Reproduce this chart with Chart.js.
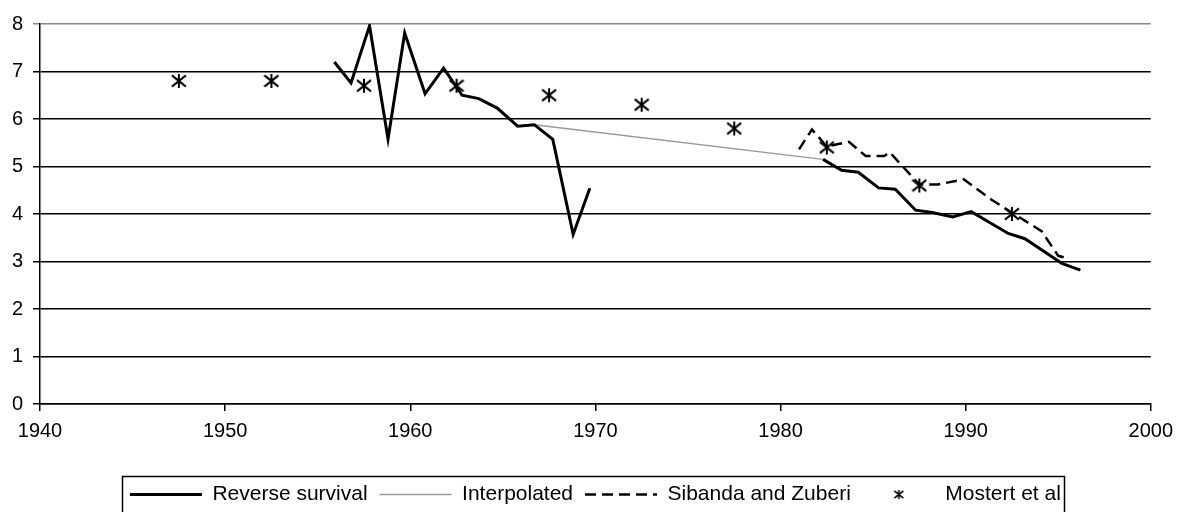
<!DOCTYPE html>
<html>
<head>
<meta charset="utf-8">
<script src="https://cdn.jsdelivr.net/npm/chart.js@4"></script>
<style>
  html, body { margin: 0; padding: 0; background: #fff; }
  #wrap { width: 1181px; height: 512px; }
</style>
</head>
<body>
<div id="wrap"><canvas id="myChart"></canvas></div>
<script>
// Reverse survival (two runs, null = gap)
const rsYears = [1955.9, 1956.8, 1957.8, 1958.8, 1959.7, 1960.8, 1961.8, 1962.8, 1963.7, 1964.7, 1965.8, 1966.7, 1967.7, 1968.8, 1969.7,
                 1976,
                 1982.3, 1983.3, 1984.2, 1985.3, 1986.2, 1987.3, 1988.2, 1989.3, 1990.3, 1991.3, 1992.3, 1993.2, 1994.2, 1995.2, 1996.2];
const rsValues = [7.2, 6.76, 7.96, 5.58, 7.81, 6.53, 7.07, 6.5, 6.43, 6.23, 5.85, 5.88, 5.57, 3.57, 4.54,
                  null,
                  5.15, 4.92, 4.88, 4.55, 4.52, 4.08, 4.03, 3.94, 4.05, 3.82, 3.59, 3.48, 3.22, 2.96, 2.82];

const interpYears = [1966.7, 1982.3];
const interpValues = [5.88, 5.15];

const sibYears = [1981.0, 1981.7, 1982.5, 1983.7, 1984.6, 1985.6, 1985.9, 1987.5, 1988.5, 1989.9, 1991.4, 1992.5, 1994.1, 1995.0, 1995.6];
const sibValues = [5.36, 5.78, 5.42, 5.52, 5.22, 5.22, 5.3, 4.62, 4.62, 4.73, 4.3, 4.03, 3.64, 3.12, 3.06];

const mostYears = [1947.5, 1952.5, 1957.5, 1962.5, 1967.5, 1972.5, 1977.5, 1982.5, 1987.5, 1992.5];
const mostValues = [6.8, 6.8, 6.7, 6.7, 6.5, 6.3, 5.8, 5.4, 4.6, 4.0];

const seriesNames = ['Reverse survival', 'Interpolated', 'Sibanda and Zuberi', 'Mostert et al'];

const font = "'Liberation Sans', Arial, sans-serif";

function pts(xs, ys) {
    return xs.map((x, i) => ({ x: x, y: ys[i] }));
}

// asterisk marker like the original
function makeStar(size, lw) {
    const c = document.createElement('canvas');
    c.width = size; c.height = size;
    const g = c.getContext('2d');
    g.strokeStyle = '#000';
    g.lineWidth = lw;
    const m = size / 2, r = size / 2 - 1;
    g.beginPath();
    g.moveTo(m, m - r); g.lineTo(m, m + r);
    g.moveTo(m - r, m - r * 0.8); g.lineTo(m + r, m + r * 0.8);
    g.moveTo(m - r, m + r * 0.8); g.lineTo(m + r, m - r * 0.8);
    g.stroke();
    return c;
}
const starBig = makeStar(16, 2);
const starSmall = makeStar(11, 1.6);

const legendBorder = {
    id: 'legendBorder',
    afterDraw(chart) {
        const boxes = chart.legend.legendHitBoxes;
        if (!boxes || !boxes.length) return;
        const first = boxes[0], last = boxes[boxes.length - 1];
        const ctx = chart.ctx;
        const top = Math.round(first.top + first.height / 2 - 19) + 0.5;
        const left = Math.round(first.left - 8) + 0.5;
        const right = Math.round(last.left + last.width + 3) + 0.5;
        ctx.save();
        ctx.strokeStyle = '#000';
        ctx.lineWidth = 1.5;
        ctx.strokeRect(left, top, right - left, chart.height - top + 5);
        ctx.restore();
    }
};

let ctx1 = document.getElementById('myChart').getContext('2d');
let chart1 = new Chart(ctx1, {
    type: 'line',
    data: {
        datasets: [{
            label: seriesNames[0],
            data: pts(rsYears, rsValues),
            borderColor: '#000',
            backgroundColor: '#000',
            borderWidth: 3,
            pointRadius: 0,
            spanGaps: false
        }, {
            label: seriesNames[1],
            data: pts(interpYears, interpValues),
            borderColor: '#999',
            backgroundColor: '#999',
            borderWidth: 1.5,
            pointRadius: 0
        }, {
            label: seriesNames[2],
            data: pts(sibYears, sibValues),
            borderColor: '#000',
            backgroundColor: '#000',
            borderWidth: 2.5,
            borderDash: [11, 6],
            pointRadius: 0
        }, {
            label: seriesNames[3],
            data: pts(mostYears, mostValues),
            showLine: false,
            pointStyle: starBig,
            pointRadius: 7,
            borderColor: '#000',
            backgroundColor: '#000'
        }]
    },
    options: {
        responsive: true,
        maintainAspectRatio: false,
        animation: false,
        layout: { padding: { left: 0, right: 26, top: 24, bottom: -3 } },
        scales: {
            x: {
                type: 'linear',
                min: 1940,
                max: 2000,
                afterFit: s => { s.height = 68; },
                ticks: {
                    stepSize: 10,
                    color: '#000',
                    padding: 8,
                    font: { family: font, size: 20 },
                    callback: v => String(v)
                },
                grid: {
                    drawOnChartArea: false,
                    color: '#000',
                    lineWidth: 1.5,
                    tickLength: 7
                },
                border: { color: '#000', width: 1.5 }
            },
            y: {
                min: 0,
                max: 8,
                afterFit: s => { s.width = 40; },
                ticks: {
                    stepSize: 1,
                    color: '#000',
                    padding: 10,
                    font: { family: font, size: 20 }
                },
                grid: {
                    color: c => (c.tick && c.tick.value === 8) ? '#888' : '#000',
                    lineWidth: 1.5,
                    tickLength: 7
                },
                border: { color: '#000', width: 1.5 }
            }
        },
        plugins: {
            legend: {
                position: 'bottom',
                fullSize: false,
                labels: {
                    usePointStyle: true,
                    pointStyleWidth: 72,
                    padding: 12,
                    color: '#000',
                    font: { family: font, size: 21 },
                    generateLabels(chart) {
                        return chart.data.datasets.map((ds, i) => ({
                            text: ds.label,
                            datasetIndex: i,
                            fillStyle: ds.borderColor,
                            strokeStyle: ds.borderColor,
                            lineWidth: i === 3 ? 0 : ds.borderWidth,
                            lineDash: ds.borderDash || [],
                            pointStyle: i === 3 ? starSmall : 'line',
                            hidden: false
                        }));
                    }
                }
            },
            tooltip: { enabled: false }
        }
    },
    plugins: [legendBorder]
});
</script>
</body>
</html>
